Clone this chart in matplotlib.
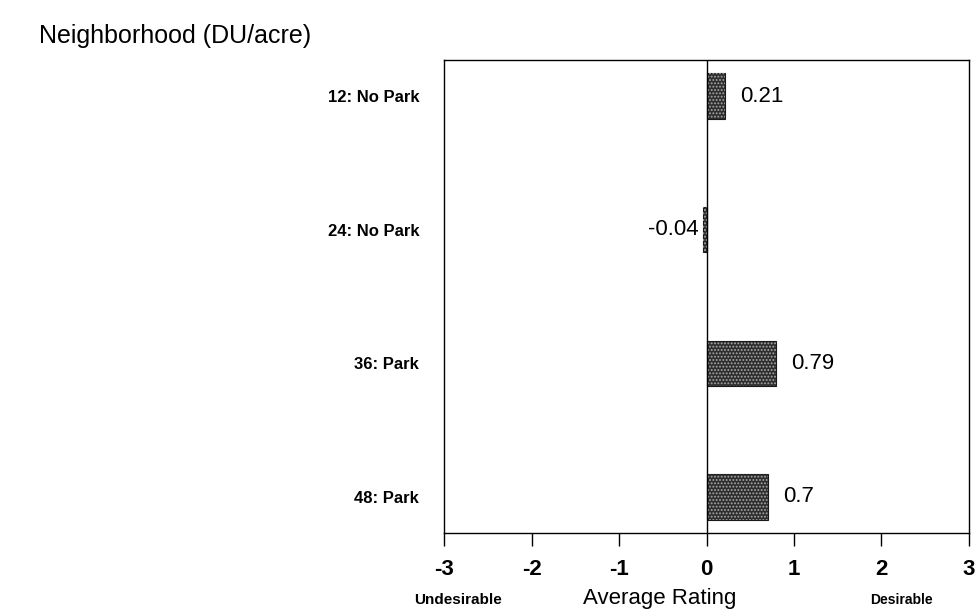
import matplotlib
matplotlib.use('Agg')
import matplotlib.pyplot as plt

categories = ['12: No Park', '24: No Park', '36: Park', '48: Park']
ratings = [0.21, -0.04, 0.79, 0.7]
value_labels = ['0.21', '-0.04', '0.79', '0.7']
xticks = [-3, -2, -1, 0, 1, 2, 3]

plt.rcParams['font.family'] = ['Liberation Sans', 'DejaVu Sans']
plt.rcParams['hatch.linewidth'] = 0.9

fig = plt.figure(figsize=(9.77, 6.16), dpi=100)
ax = fig.add_axes([0.4545, 0.1347, 0.5373, 0.7679])

ypos = list(range(len(categories)))
# dark bars with a light dot screen on top
ax.barh(ypos, ratings, height=0.34, color='#2e2e2e', edgecolor='#1a1a1a', linewidth=0.8)
ax.barh(ypos, ratings, height=0.34, color='none', edgecolor='#a8a8a8',
        hatch='.....', linewidth=0)

# value labels next to the bars
for y, v, lab in zip(ypos, ratings, value_labels):
    if v >= 0:
        ax.annotate(lab, (v, y), xytext=(11, 0), textcoords='offset points',
                    ha='left', va='center', fontsize=16)
    else:
        ax.annotate(lab, (0, y), xytext=(-6, 0), textcoords='offset points',
                    ha='right', va='center', fontsize=16)

ax.axvline(0, color='black', lw=1.0)
ax.set_xlim(-3, 3)
ax.set_ylim(3.27, -0.27)
ax.set_yticks(ypos)
ax.set_yticklabels(categories, fontsize=12, fontweight='bold')
ax.tick_params(axis='y', length=0, pad=18)
ax.set_xticks(xticks)
ax.set_xticklabels([str(t) for t in xticks], fontsize=16, fontweight='bold')
ax.tick_params(axis='x', direction='out', length=9, width=1.0, pad=10)
for s in ax.spines.values():
    s.set_linewidth(1.0)

fig.text(0.04, 0.942, 'Neighborhood (DU/acre)', fontsize=18, ha='left', va='center')
fig.text(0.469, 0.026, 'Undesirable', fontsize=11, fontweight='bold', ha='center', va='center')
fig.text(0.675, 0.029, 'Average Rating', fontsize=16, ha='center', va='center')
fig.text(0.923, 0.026, 'Desirable', fontsize=10, fontweight='bold', ha='center', va='center')

fig.savefig('out.png', dpi=100)
